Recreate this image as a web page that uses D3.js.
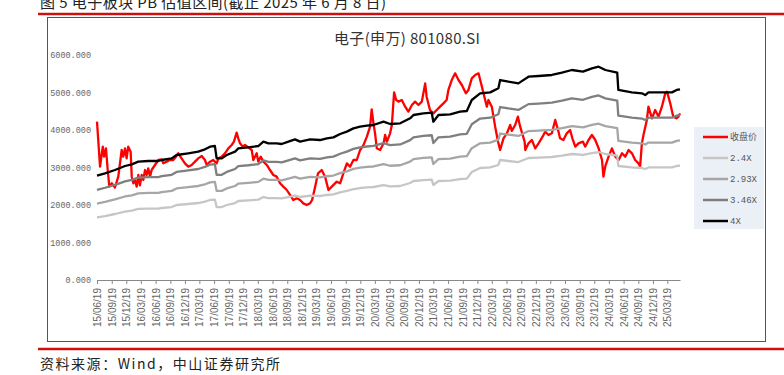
<!DOCTYPE html>
<html>
<head>
<meta charset="utf-8">
<script src="https://cdn.jsdelivr.net/npm/d3@7"></script>
<style>
  body { margin: 0; background: #fff; }
  svg { display: block; }
</style>
</head>
<body>
<div id="chart"></div>
<script>
// 收盘价 (close)
const closeDates = [
  "2015-06-19","2015-07-08","2015-07-25","2015-08-02","2015-08-14","2015-08-25","2015-09-04","2015-09-19","2015-10-09","2015-10-30",
  "2015-11-20","2015-11-30","2015-12-11","2015-12-21","2015-12-31","2016-01-15","2016-01-22","2016-02-01","2016-02-11","2016-02-22",
  "2016-03-03","2016-03-13","2016-03-24","2016-04-03","2016-04-14","2016-04-24","2016-05-04","2016-05-15","2016-05-25","2016-06-15",
  "2016-07-06","2016-07-27","2016-08-06","2016-08-27","2016-09-16","2016-10-07","2016-10-24","2016-11-07","2016-11-28","2016-12-19",
  "2017-01-09","2017-01-30","2017-02-20","2017-03-12","2017-04-03","2017-04-23","2017-05-04","2017-05-25","2017-06-14","2017-07-05",
  "2017-07-16","2017-08-06","2017-08-26","2017-09-16","2017-10-07","2017-10-21","2017-11-07","2017-11-17","2017-11-28","2017-12-15",
  "2017-12-29","2018-01-19","2018-02-09","2018-02-19","2018-03-12","2018-03-22","2018-04-06","2018-04-23","2018-05-14","2018-06-03",
  "2018-06-24","2018-07-15","2018-08-05","2018-08-25","2018-09-16","2018-10-06","2018-10-27","2018-11-17","2018-12-08","2018-12-28",
  "2019-01-19","2019-02-08","2019-02-21","2019-03-12","2019-03-30","2019-04-22","2019-05-13","2019-06-03","2019-06-24","2019-07-25",
  "2019-08-15","2019-09-04","2019-09-26","2019-10-16","2019-11-06","2019-11-27","2019-12-18","2020-01-08","2020-01-29","2020-02-18",
  "2020-02-28","2020-03-10","2020-03-20","2020-03-31","2020-04-21","2020-05-12","2020-05-22","2020-06-02","2020-06-22","2020-07-03",
  "2020-07-17","2020-07-30","2020-08-13","2020-09-03","2020-09-24","2020-10-14","2020-11-05","2020-11-25","2020-12-16","2021-01-06",
  "2021-01-27","2021-02-05","2021-02-26","2021-03-19","2021-04-09","2021-04-30","2021-05-21","2021-06-10","2021-06-21","2021-07-12",
  "2021-08-02","2021-08-23","2021-09-13","2021-10-08","2021-10-24","2021-11-14","2021-12-05","2021-12-26","2022-01-16","2022-01-26",
  "2022-02-16","2022-02-26","2022-03-19","2022-04-09","2022-04-27","2022-05-10","2022-05-31","2022-06-21","2022-07-12","2022-07-22",
  "2022-08-12","2022-08-29","2022-09-12","2022-10-10","2022-10-14","2022-11-03","2022-11-24","2022-12-15","2023-01-05","2023-01-30",
  "2023-02-15","2023-03-08","2023-03-29","2023-04-19","2023-05-08","2023-05-19","2023-06-09","2023-06-30","2023-07-21","2023-08-04",
  "2023-08-22","2023-09-11","2023-10-09","2023-10-23","2023-11-13","2023-12-04","2023-12-25","2024-01-15","2024-02-05","2024-02-14",
  "2024-02-25","2024-03-17","2024-04-07","2024-04-28","2024-05-19","2024-06-09","2024-06-29","2024-07-20","2024-08-10","2024-08-30",
  "2024-09-20","2024-09-30","2024-10-11","2024-10-21","2024-11-11","2024-11-21","2024-12-13","2025-01-02","2025-01-23","2025-02-13",
  "2025-03-06","2025-03-17","2025-04-06","2025-04-25","2025-05-15","2025-05-28","2025-06-06"
];
const closeValues = [
  4222,3022,3556,3289,3511,2933,2489,2578,2467,2756,
  3467,3289,3511,3244,3556,3422,2756,2578,2667,2489,
  2800,2524,2800,2667,2933,2800,2978,2756,2933,3067,
  3200,3218,3111,3156,3200,3200,3289,3378,3244,3111,
  3022,3067,3156,3244,3307,3200,3067,3156,3200,3111,
  3244,3289,3378,3511,3600,3689,3929,3778,3644,3556,
  3600,3538,3467,3200,3378,3156,3289,3156,3067,2933,
  2800,2756,2578,2489,2400,2267,2133,2178,2133,2044,
  2000,2044,2133,2489,2844,2933,2756,2400,2489,2622,
  2578,2844,3111,3022,3200,3200,3467,3600,3822,4089,
  4551,4178,3911,3511,3467,3644,3867,3689,3911,4133,
  5004,4800,4756,4800,4622,4489,4667,4756,4667,4756,
  5244,4889,4533,4444,4533,4622,4711,4800,5067,5333,
  5511,5333,5200,4978,5067,5378,5467,5511,5156,4978,
  4622,4800,4622,4089,3689,3467,3778,3911,4133,3978,
  4133,4356,4089,3689,3467,3644,3733,3511,3644,3822,
  3956,3867,3911,4267,3978,3778,3733,3911,4000,3778,
  3556,3644,3689,3556,3733,3867,3733,3511,3200,2756,
  3022,3289,3511,3289,3200,3378,3289,3467,3378,3200,
  3111,3022,3644,3867,4267,4622,4311,4533,4356,4622,
  4978,5022,4711,4356,4311,4356,4444
];

// PB bands (2.4X / 2.93X / 3.46X / 4X)
const bandDates = [
  "2015-06-19","2015-08-08","2015-10-09","2015-12-11","2016-01-22","2016-03-03","2016-05-04","2016-07-06","2016-07-27","2016-09-27",
  "2016-10-28","2017-01-09","2017-03-12","2017-04-23","2017-05-25","2017-06-24","2017-07-05","2017-08-06","2017-09-06","2017-10-28",
  "2017-11-17","2018-01-19","2018-03-22","2018-04-23","2018-05-24","2018-07-15","2018-08-15","2018-09-26","2018-11-06","2018-12-08",
  "2019-02-08","2019-04-12","2019-05-24","2019-07-04","2019-08-15","2019-09-26","2019-11-06","2019-12-18","2020-01-29","2020-03-10",
  "2020-05-12","2020-06-22","2020-08-24","2020-10-25","2020-11-15","2021-01-16","2021-03-09","2021-03-19","2021-04-20","2021-07-02",
  "2021-09-02","2021-10-14","2021-11-14","2022-01-05","2022-03-09","2022-04-29","2022-05-10","2022-07-01","2022-09-01","2022-11-03",
  "2023-01-05","2023-03-29","2023-05-31","2023-08-01","2023-10-09","2023-12-04","2024-01-15","2024-02-26","2024-05-10","2024-05-17",
  "2024-08-09","2024-10-11","2024-11-01","2024-11-21","2025-01-23","2025-04-17","2025-05-16","2025-06-06"
];
const band4 = [
  2782,2844,2933,3040,3084,3156,3173,3173,3200,3244,
  3333,3378,3422,3484,3556,3573,3244,3244,3333,3422,
  3511,3538,3573,3689,3644,3644,3627,3689,3751,3689,
  3751,3733,3778,3804,3893,3956,4044,4089,4116,4133,
  4222,4160,4178,4311,4400,4444,4462,4222,4400,4418,
  4489,4507,4800,4978,5004,5111,5333,5289,5244,5422,
  5440,5467,5529,5600,5556,5644,5689,5600,5529,5067,
  5004,4978,4933,5004,5004,5004,5067,5084
];
const band346 = [
  2406,2460,2537,2630,2668,2730,2745,2745,2768,2806,
  2883,2922,2960,3014,3076,3091,2806,2806,2883,2960,
  3037,3060,3091,3191,3152,3152,3137,3191,3245,3191,
  3245,3229,3268,3290,3367,3422,3498,3537,3560,3575,
  3652,3598,3614,3729,3806,3844,3860,3652,3806,3822,
  3883,3899,4152,4306,4328,4421,4613,4575,4536,4690,
  4706,4729,4783,4844,4806,4882,4921,4844,4783,4383,
  4328,4306,4267,4328,4328,4328,4383,4398
];
const band293 = [
  2038,2083,2148,2227,2259,2312,2324,2324,2344,2376,
  2441,2474,2507,2552,2605,2617,2376,2376,2441,2507,
  2572,2592,2617,2702,2669,2669,2657,2702,2748,2702,
  2748,2734,2767,2786,2852,2898,2962,2995,3015,3027,
  3093,3047,3060,3158,3223,3255,3268,3093,3223,3236,
  3288,3301,3516,3646,3665,3744,3906,3874,3841,3972,
  3985,4005,4050,4102,4070,4134,4167,4102,4050,3712,
  3665,3646,3613,3665,3665,3665,3712,3724
];
const band24 = [
  1669,1706,1760,1824,1850,1894,1904,1904,1920,1946,
  2000,2027,2053,2090,2134,2144,1946,1946,2000,2053,
  2107,2123,2144,2213,2186,2186,2176,2213,2251,2213,
  2251,2240,2267,2282,2336,2374,2426,2453,2470,2480,
  2533,2496,2507,2587,2640,2666,2677,2533,2640,2651,
  2693,2704,2880,2987,3002,3067,3200,3173,3146,3253,
  3264,3280,3317,3360,3334,3386,3413,3360,3317,3040,
  3002,2987,2960,3002,3002,3002,3040,3050
];

const xTickLabels = [
  "15/06/19","15/09/19","15/12/19",
  "16/03/19","16/06/19","16/09/19","16/12/19",
  "17/03/19","17/06/19","17/09/19","17/12/19",
  "18/03/19","18/06/19","18/09/19","18/12/19",
  "19/03/19","19/06/19","19/09/19","19/12/19",
  "20/03/19","20/06/19","20/09/19","20/12/19",
  "21/03/19","21/06/19","21/09/19","21/12/19",
  "22/03/19","22/06/19","22/09/19","22/12/19",
  "23/03/19","23/06/19","23/09/19","23/12/19",
  "24/03/19","24/06/19","24/09/19","24/12/19",
  "25/03/19"
];
const yTickValues = [0, 1000, 2000, 3000, 4000, 5000, 6000];
const legendLabels = ["收盘价", "2.4X", "2.93X", "3.46X", "4X"];
const seriesColors = ["#ff0000", "#c6c6c6", "#a6a6a6", "#7f7f7f", "#000000"];

const width = 784, height = 375;
const parseDay = d3.timeParse("%Y-%m-%d");
const parseTick = d3.timeParse("%y/%m/%d");

const svg = d3.select("#chart")
    .append("svg")
    .attr("width", width)
    .attr("height", height);

// page furniture: caption, red rules, frame, source
svg.append("text")
    .attr("x", 40).attr("y", 8)
    .attr("font-family", "'Noto Sans CJK SC', sans-serif")
    .attr("font-size", 15)
    .attr("fill", "#222")
    .attr("textLength", 346)
    .text("图 5 电子板块 PB 估值区间(截止 2025 年 6 月 8 日)");

svg.append("line")
    .attr("x1", 38).attr("x2", width).attr("y1", 14).attr("y2", 14)
    .attr("stroke", "#cc1010").attr("stroke-width", 2.5);

svg.append("rect")
    .attr("x", 47.5).attr("y", 17.5)
    .attr("width", 718).attr("height", 324)
    .attr("fill", "none").attr("stroke", "#555").attr("stroke-width", 1);

svg.append("line")
    .attr("x1", 38).attr("x2", width).attr("y1", 349).attr("y2", 349)
    .attr("stroke", "#cc1010").attr("stroke-width", 2.5);

svg.append("text")
    .attr("x", 40).attr("y", 369)
    .attr("font-family", "'Noto Sans CJK SC', sans-serif")
    .attr("font-size", 14)
    .attr("fill", "#222")
    .attr("textLength", 240)
    .text("资料来源：Wind，中山证券研究所");

svg.append("text")
    .attr("x", 407).attr("y", 44)
    .attr("text-anchor", "middle")
    .attr("font-family", "'Noto Sans CJK SC', sans-serif")
    .attr("font-size", 15)
    .attr("fill", "#333")
    .attr("textLength", 146)
    .text("电子(申万) 801080.SI");

// scales
const x = d3.scaleTime()
    .domain([parseDay("2015-06-19"), parseDay("2025-06-06")])
    .range([97, 680]);

const y = d3.scaleLinear()
    .domain([0, 6000])
    .range([280, 55]);

// axes
const xAxis = svg.append("g")
    .attr("transform", "translate(0,280)")
    .call(d3.axisBottom(x)
        .tickValues(xTickLabels.map(parseTick))
        .tickFormat((d, i) => xTickLabels[i])
        .tickSize(4)
        .tickSizeOuter(0));
xAxis.select(".domain").attr("stroke", "#888");
xAxis.selectAll(".tick line").attr("stroke", "#888");
xAxis.selectAll(".tick text")
    .attr("transform", "rotate(-90)")
    .attr("x", -8).attr("y", 0).attr("dy", "0.35em")
    .style("text-anchor", "end")
    .attr("font-family", "'Liberation Sans', Arial, sans-serif")
    .attr("font-size", 10)
    .attr("fill", "#666");

const yAxis = svg.append("g")
    .attr("transform", "translate(91,0)")
    .call(d3.axisLeft(y)
        .tickValues(yTickValues)
        .tickFormat(d3.format(".3f"))
        .tickSize(0)
        .tickPadding(0));
yAxis.select(".domain").remove();
yAxis.selectAll(".tick text")
    .attr("font-family", "'Liberation Mono', monospace")
    .attr("font-size", 8.5)
    .attr("fill", "#666");

// series
const closeSeries = closeDates.map((d, i) => ({ date: parseDay(d), value: closeValues[i] }));
const bandSeries = [band24, band293, band346, band4].map(vals =>
    bandDates.map((d, i) => ({ date: parseDay(d), value: vals[i] })));
const allSeries = [closeSeries].concat(bandSeries);

const lineGen = d3.line()
    .x(d => x(d.date))
    .y(d => y(d.value));

svg.selectAll("path.series")
    .data(allSeries)
    .enter()
    .append("path")
    .attr("class", "series")
    .attr("d", lineGen)
    .attr("fill", "none")
    .attr("stroke", (d, i) => seriesColors[i])
    .attr("stroke-width", 2.3)
    .attr("stroke-linejoin", "round");

// legend
const legend = svg.append("g");
legend.append("rect")
    .attr("x", 694).attr("y", 127)
    .attr("width", 70).attr("height", 102)
    .attr("fill", "#ebf0f7");

const items = legend.selectAll("g.item")
    .data(legendLabels)
    .enter()
    .append("g")
    .attr("class", "item")
    .attr("transform", (d, i) => "translate(0," + (137 + i * 21) + ")");
items.append("line")
    .attr("x1", 703).attr("x2", 728)
    .attr("stroke", (d, i) => seriesColors[i])
    .attr("stroke-width", 2.5);
items.append("text")
    .attr("x", 730).attr("dy", "0.35em")
    .attr("font-family", (d, i) => i === 0 ? "'Noto Sans CJK SC', sans-serif" : "'Liberation Mono', monospace")
    .attr("font-size", 9)
    .attr("fill", "#555")
    .text(d => d);
</script>
</body>
</html>
